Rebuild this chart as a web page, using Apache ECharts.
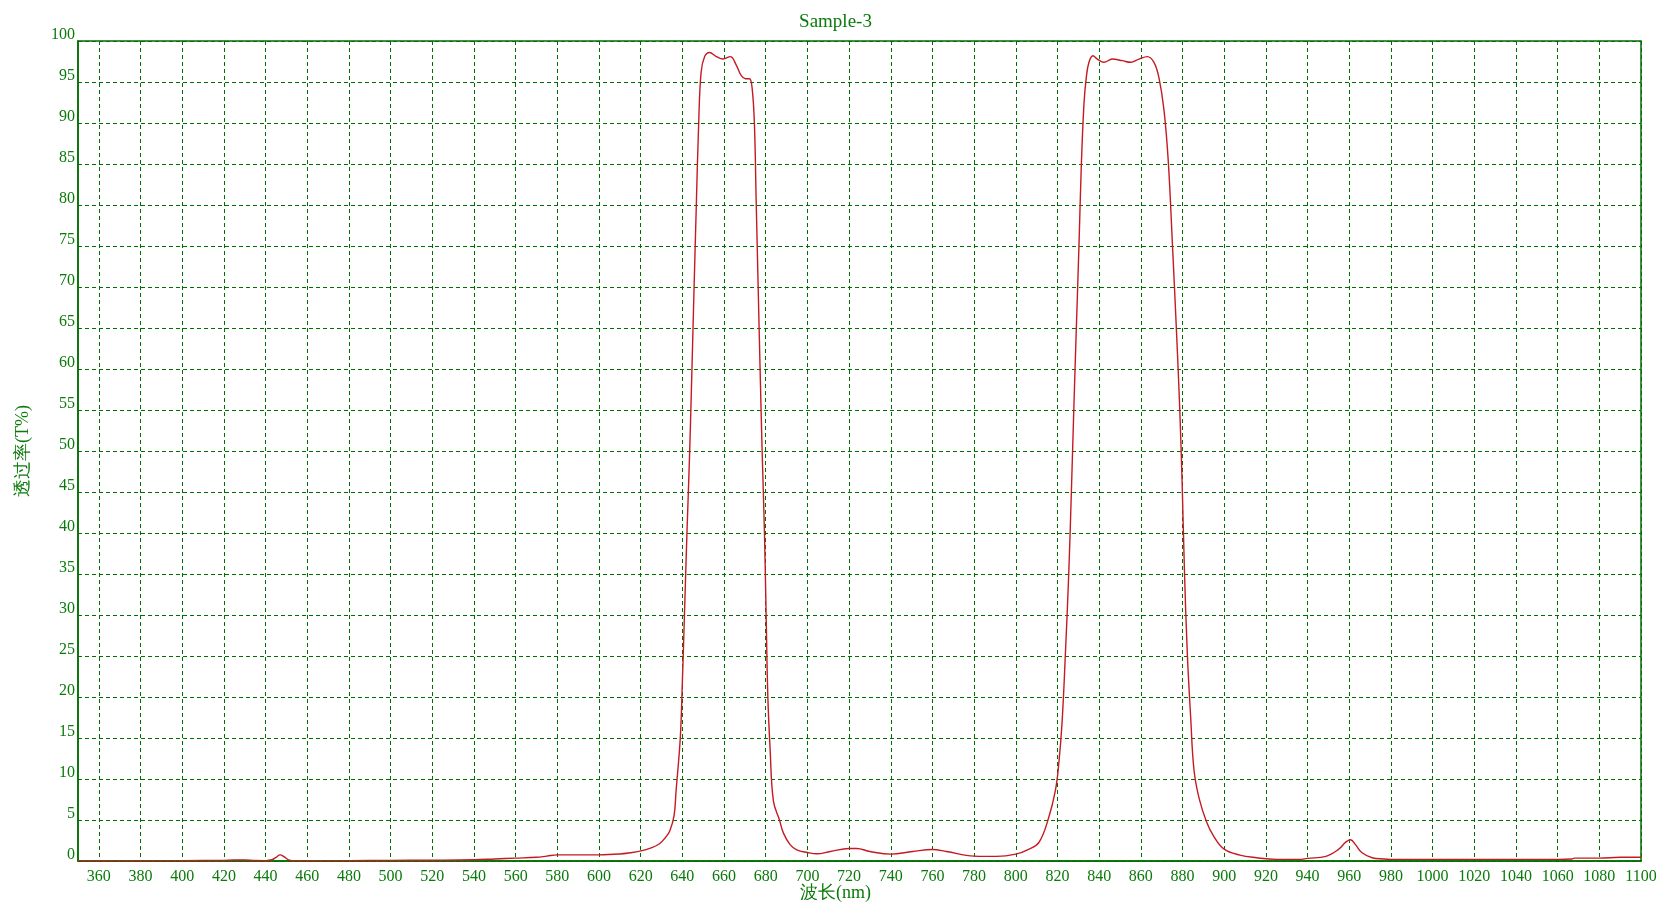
<!DOCTYPE html>
<html>
<head>
<meta charset="utf-8">
<script src="https://cdn.jsdelivr.net/npm/echarts@6/dist/echarts.min.js"></script>
<style>
html,body{margin:0;padding:0;background:#fff;}
#chart{width:1671px;height:913px;}
</style>
</head>
<body>
<div id="chart"></div>
<script>
const chartTitle = 'Sample-3';
const xName = '波长(nm)';
const yName = '透过率(T%)';

const wavelengths = [
  350, 360, 380, 400, 420, 425, 430, 435, 440, 443, 445, 447, 449, 451, 453, 460, 480, 500, 520, 540,
  550, 560, 570, 575, 580, 590, 600, 610, 615, 619.6, 625, 629, 632, 634, 636, 637, 639, 640, 641, 642.2,
  643.5, 644.6, 645.6, 646.7, 647.8, 649, 650.7, 653, 656.3, 659.5, 663, 665.8, 668.2, 670.3, 672.2, 673.5,
  674.6, 675.4, 676.4, 677.3, 678.3, 679.4, 680.2, 681, 682.1, 683.7, 686.6, 688.5, 691.7, 694.9, 700,
  704.5, 711, 720, 723.6, 730, 740, 750.5, 760, 766.7, 780, 790.7, 800, 806.4, 811.2, 815.8, 819, 820.6,
  822.2, 823.8, 825.4, 826.7, 827.9, 829, 830.3, 831.4, 832.7, 833.8, 835.1, 837, 839.1, 842.3, 846.3,
  851.1, 855.1, 859.1, 863.1, 866.3, 868.7, 871.1, 873.2, 875.1, 877.1, 878.7, 879.9, 880.9, 882.3, 883.9,
  885.5, 888, 891.5, 895, 900, 907.5, 915.5, 925, 936, 940, 948.8, 955, 958.3, 960.6, 963, 966, 971,
  976.6, 980, 1000, 1020, 1040, 1060, 1067, 1068, 1080, 1090, 1100
];
const transmittance = [
  0.05, 0.05, 0.05, 0.05, 0.08, 0.12, 0.12, 0.06, 0.05, 0.15, 0.45, 0.75, 0.5, 0.15, 0.05, 0.05, 0.05, 0.08, 0.1, 0.15,
  0.25, 0.35, 0.45, 0.6, 0.75, 0.75, 0.75, 0.85, 1.0, 1.2, 1.6, 2.1, 2.9, 3.7, 5.5, 8.6, 15, 21.8, 30, 40,
  49.8, 60, 69.7, 80, 89.7, 96.2, 98.1, 98.6, 98.1, 97.8, 98.1, 97.1, 95.8, 95.4, 95.4, 94.2,
  89.7, 80.7, 69.7, 60, 49.8, 40, 30, 20.2, 13.7, 7.3, 5.0, 3.4, 2.0, 1.36, 1.04,
  0.88, 1.16, 1.52, 1.52, 1.16, 0.84, 1.16, 1.4, 1.16, 0.6, 0.56, 0.84, 1.45, 2.3, 5.3, 8.6, 11.8,
  16.9, 25.3, 35, 45.3, 55.6, 64.6, 74.9, 84.5, 92.3, 95.5, 97.4, 98.2, 97.8, 97.4, 97.8,
  97.6, 97.4, 97.8, 98.1, 97.4, 95.5, 91.6, 85.2, 75.5, 64.6, 54.9, 45.3, 35.6, 25.3, 17.6,
  11.1, 7.6, 4.8, 3.0, 1.44, 0.72, 0.4, 0.2, 0.2, 0.32, 0.56, 1.44, 2.3, 2.6, 2.0, 1.04, 0.4,
  0.24, 0.2, 0.2, 0.2, 0.2, 0.2, 0.25, 0.35, 0.35, 0.45, 0.45
];
const xTicks = [360, 380, 400, 420, 440, 460, 480, 500, 520, 540, 560, 580, 600, 620, 640, 660, 680, 700,
  720, 740, 760, 780, 800, 820, 840, 860, 880, 900, 920, 940, 960, 980, 1000, 1020, 1040, 1060, 1080, 1100];
const xRange = [350, 1100];
const yRange = [0, 100];
const yStep = 5;

const green = '#0a7a0a';
const lineGreen = '#006e00';
const serif = '"Liberation Serif", "Times New Roman", serif';

const chart = echarts.init(document.getElementById('chart'), null, {renderer: 'canvas'});
chart.setOption({
  animation: false,
  backgroundColor: '#ffffff',
  title: {
    text: chartTitle,
    left: 'center',
    top: 8,
    textStyle: {color: green, fontFamily: serif, fontWeight: 'normal', fontSize: 19}
  },
  grid: {
    left: 78, right: 30, top: 41, bottom: 52,
    show: true, borderColor: lineGreen, borderWidth: 1.5, backgroundColor: 'transparent'
  },
  xAxis: {
    type: 'value',
    min: xRange[0], max: xRange[1],
    name: xName,
    nameLocation: 'middle',
    nameGap: 23,
    nameMoveOverlap: false,
    nameTextStyle: {color: green, fontSize: 18, fontFamily: serif, padding: [0, 48, 0, 0]},
    axisLine: {show: true, lineStyle: {color: lineGreen, width: 1.5}},
    axisTick: {show: false, customValues: xTicks},
    axisLabel: {customValues: xTicks, color: green, fontFamily: serif, fontSize: 16, margin: 8,
      formatter: v => String(v)},
    splitLine: {show: true, lineStyle: {color: lineGreen, type: [4, 3], width: 1}}
  },
  yAxis: {
    type: 'value',
    min: yRange[0], max: yRange[1], interval: yStep,
    name: yName,
    nameLocation: 'middle',
    nameGap: 46,
    nameMoveOverlap: false,
    nameTextStyle: {color: green, fontSize: 18, fontFamily: serif},
    axisLine: {show: true, lineStyle: {color: lineGreen, width: 1.5}},
    axisTick: {show: false},
    axisLabel: {color: green, fontFamily: serif, fontSize: 16, margin: 3, verticalAlign: 'bottom',
      lineHeight: 13, formatter: v => String(v)},
    splitLine: {show: true, lineStyle: {color: lineGreen, type: [4, 3], width: 1}}
  },
  series: [{
    type: 'line',
    data: wavelengths.map((w, i) => [w, transmittance[i]]),
    showSymbol: false,
    smooth: 0.4,
    lineStyle: {color: '#c41a22', width: 1.4},
    itemStyle: {color: '#c41a22'}
  }]
});
</script>
</body>
</html>
